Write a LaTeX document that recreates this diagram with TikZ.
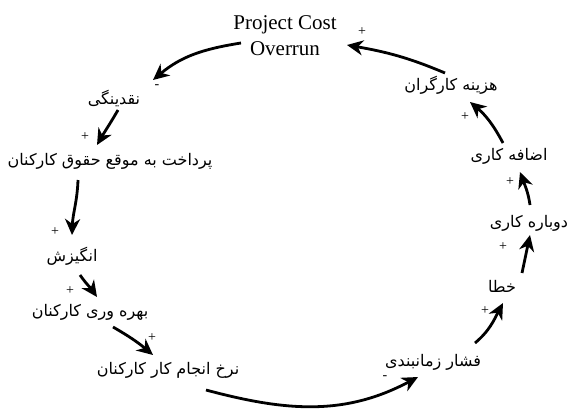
\documentclass[tikz,border=0pt]{standalone}
\usepackage{fontspec}
\setmainfont{Liberation Serif}
\newfontfamily\fa[Script=Arabic]{DejaVu Sans}
\TeXXeTstate=1
\usetikzlibrary{arrows.meta,calc}
\begin{document}
\begin{tikzpicture}[x=1pt,y=1pt,
  fanode/.style={font=\fa\fontsize{16}{18}\selectfont, inner sep=0pt},
  sign/.style={font=\fontsize{14}{14}\selectfont, inner sep=0pt},
  arr/.style={line width=2.8pt, -{Stealth[length=16pt,width=15pt,inset=5pt]}}]
\useasboundingbox (0,0) rectangle (573,-408);
% nodes
\node[align=center, font=\fontsize{21}{26}\selectfont, inner sep=0pt] (pco) at (285,-36) {Project Cost\\Overrun};
\node[fanode] (naq) at (114,-98) {\beginR نقدینگی\endR};
\node[fanode] (pard) at (110,-161) {\beginR پرداخت به موقع حقوق کارکنان\endR};
\node[fanode] (angiz) at (72,-256) {\beginR انگیزش\endR};
\node[fanode] (bahre) at (90,-312) {\beginR بهره وری کارکنان\endR};
\node[fanode] (nerkh) at (168,-370) {\beginR نرخ انجام کار کارکنان\endR};
\node[fanode] (feshar) at (433,-362) {\beginR فشار زمانبندی\endR};
\node[fanode] (khata) at (502,-286) {\beginR خطا\endR};
\node[fanode] (dobare) at (529,-223) {\beginR دوباره کاری\endR};
\node[fanode] (ezafe) at (509,-156) {\beginR اضافه کاری\endR};
\node[fanode] (hazine) at (451,-85) {\beginR هزینه کارگران\endR};
% polarity signs
\node[sign] (s1) at (157,-87) {-};
\node[sign] (s2) at (85,-137) {+};
\node[sign] (s3) at (55,-232) {+};
\node[sign] (s4) at (70,-291) {+};
\node[sign] (s5) at (152,-338) {+};
\node[sign] (s6) at (385,-378) {-};
\node[sign] (s7) at (485,-311) {+};
\node[sign] (s8) at (503,-247) {+};
\node[sign] (s9) at (510,-182) {+};
\node[sign] (s10) at (465,-117) {+};
\node[sign] (s11) at (362,-32) {+};
% connectors
\draw[arr] ($(pco)+(-44,-7)$) to[out=189,in=40] ($(naq)+(39,18)$);
\draw[arr] ($(naq)+(4,-12)$) to[out=240,in=60] ($(pard)+(-13,16)$);
\draw[arr] ($(pard)+(-32,-19)$) to[out=268,in=88] ($(angiz)+(0,21)$);
\draw[arr] ($(angiz)+(8,-19)$) to[out=-55,in=125] ($(bahre)+(7,15)$);
\draw[arr] ($(bahre)+(23,-15)$) to[out=-30,in=140] ($(nerkh)+(-15,15)$);
\draw[arr] ($(nerkh)+(38,-20)$) to[out=-15,in=208] ($(feshar)+(-15,-15)$);
\draw[arr] ($(feshar)+(42,19)$) to[out=40,in=242] ($(khata)+(1,-17)$);
\draw[arr] ($(khata)+(20,13)$) to[out=78,in=258] ($(dobare)+(1,-12)$);
\draw[arr] ($(dobare)+(1,18)$) to[out=98,in=290] ($(ezafe)+(11,-16)$);
\draw[arr] ($(ezafe)+(-6,13)$) to[out=118,in=-40] ($(hazine)+(19,-17)$);
\draw[arr] ($(hazine)+(-6,12)$) to[out=157,in=-10] ($(pco)+(62,-9)$);
\end{tikzpicture}
\end{document}
